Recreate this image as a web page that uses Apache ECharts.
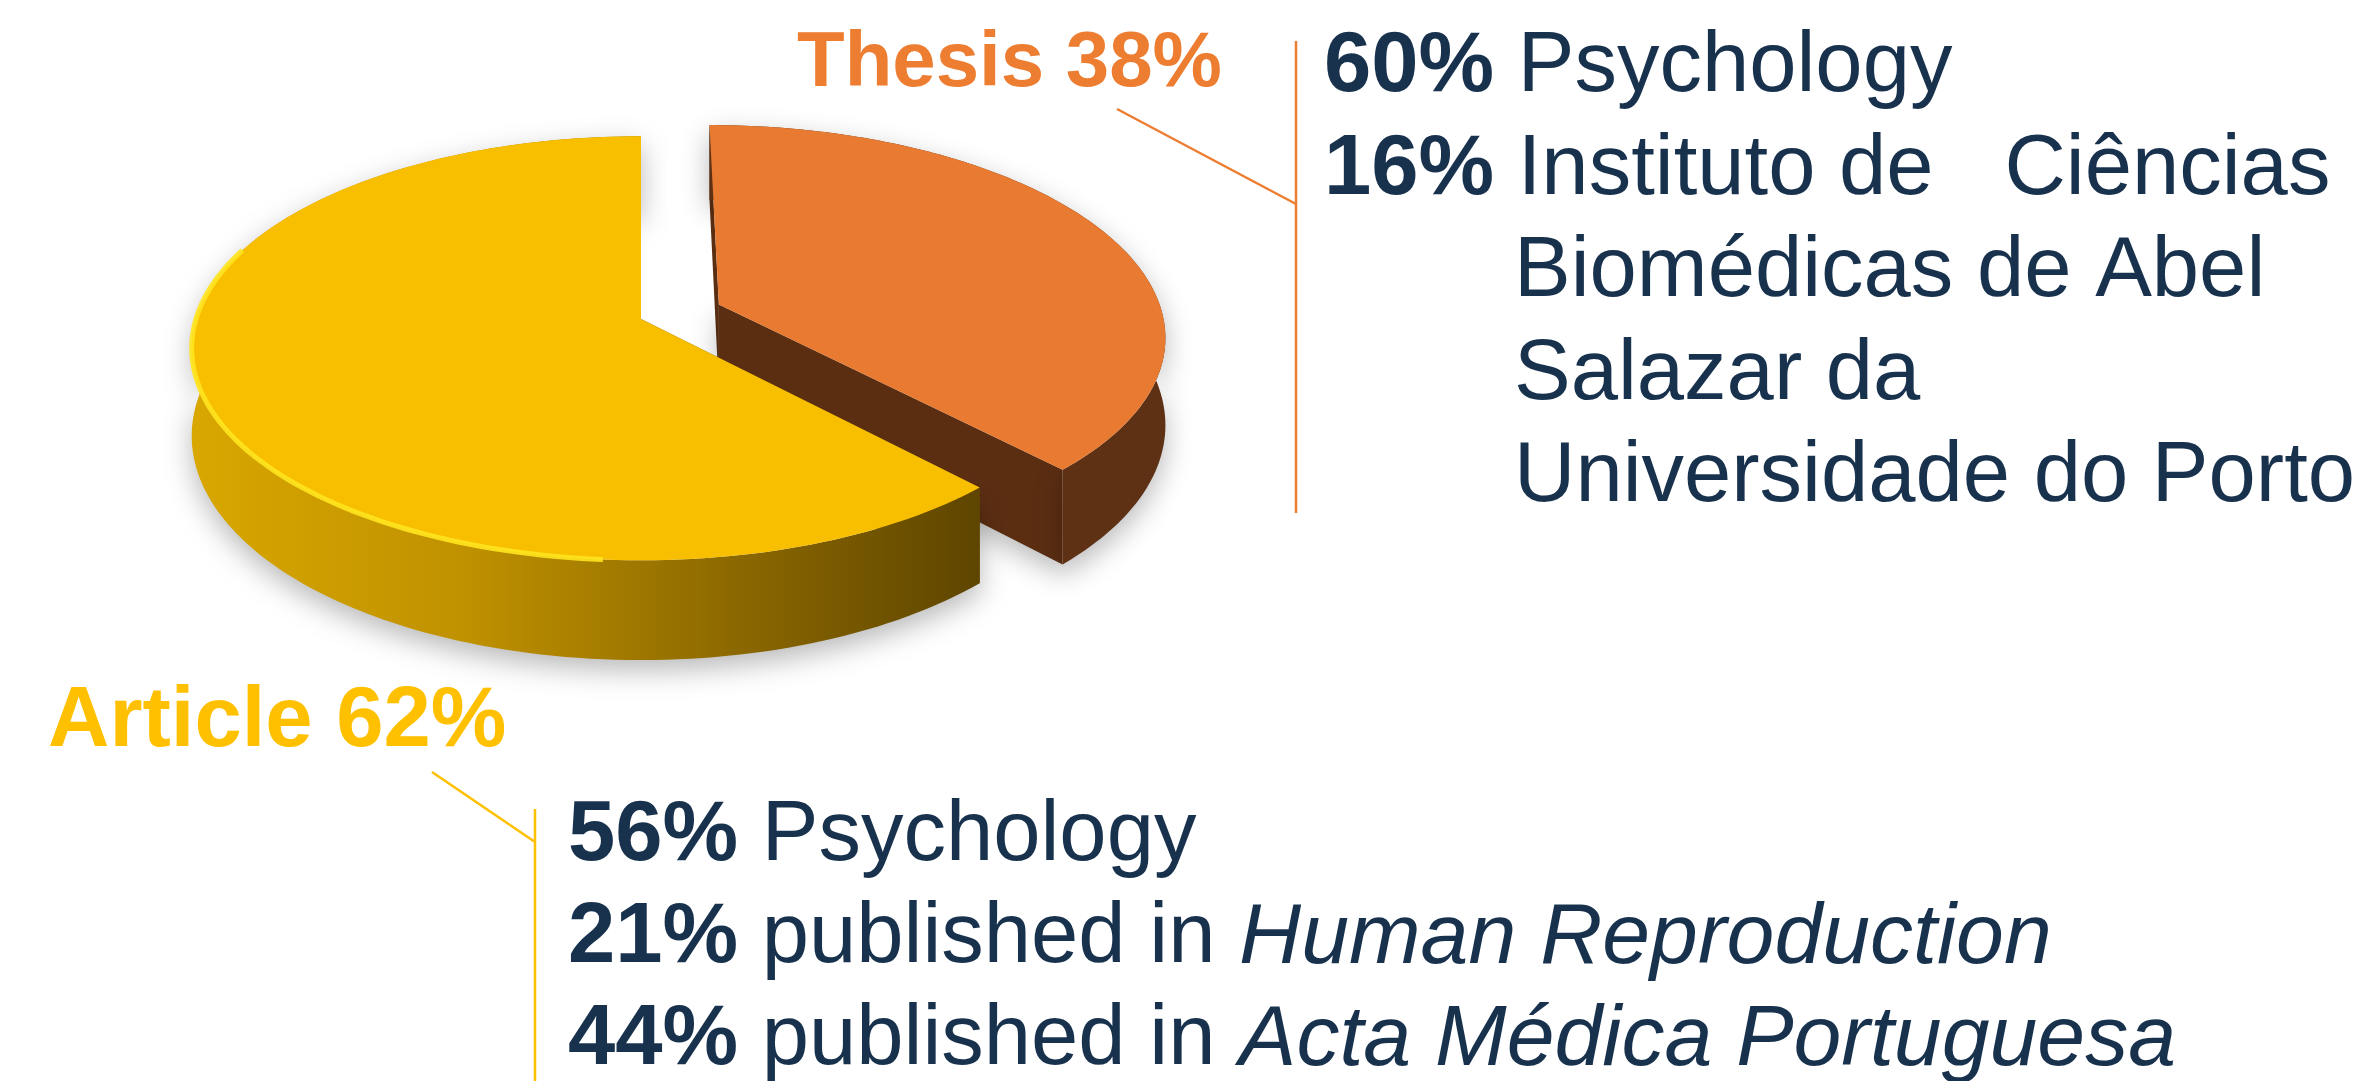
<!DOCTYPE html>
<html>
<head>
<meta charset="utf-8">
<script src="https://cdn.jsdelivr.net/npm/echarts@6/dist/echarts.min.js"></script>
<style>
  html, body { margin: 0; padding: 0; background: #fff; }
  #main { width: 2366px; height: 1081px; }
</style>
</head>
<body>
<div id="main"></div>
<script>
// data
const categories = ['Thesis', 'Article'];
const shares = [38, 62];
const thesisNotes = [
  ['60%', 'Psychology'],
  ['16%', 'Instituto de   Ciências'],
  ['', 'Biomédicas de Abel'],
  ['', 'Salazar da'],
  ['', 'Universidade do Porto']
];
const articleNotes = [
  ['56%', 'Psychology', ''],
  ['21%', 'published in ', 'Human Reproduction'],
  ['44%', 'published in ', 'Acta Médica Portuguesa']
];

// look of the fake 3d pie
const pie = {cx: 641, cy: 319, rx: 445, ry: 208, persp: 0.138, depth: 86};
const explode = [0.19, 0];
const topColor = ['#E87B31', '#F8BE00'];
const cutColor = ['#5B2E12', '#6A4C00'];
const FONT = '"Liberation Sans", Arial, sans-serif';
const NAVY = '#18324E';

function project(u, v, down) {
  const w = 1 + pie.persp * v;
  return [pie.cx + pie.rx * u / w, pie.cy - pie.ry * v / w + (down ? pie.depth / w : 0)];
}

function wallFill(i) {
  if (i === 0) return '#5E3014';
  return new echarts.graphic.LinearGradient(0, 0, 1, 0, [
    {offset: 0, color: '#D9A700'},
    {offset: 0.35, color: '#BF9100'},
    {offset: 0.7, color: '#8A6700'},
    {offset: 1, color: '#5E4500'}
  ]);
}

function renderSlice(params, api) {
  const i = params.dataIndex;
  const total = shares.reduce((a, b) => a + b, 0);
  let before = 0;
  for (let j = 0; j < i; j++) before += shares[j];
  const a0 = before / total * Math.PI * 2;
  const a1 = (before + api.value(1)) / total * Math.PI * 2;
  const mid = (a0 + a1) / 2;
  const ou = explode[i] * Math.sin(mid);
  const ov = explode[i] * Math.cos(mid);

  const steps = 160;
  const rimTop = [];
  const rimBot = [];
  const glow = [];
  for (let s = 0; s <= steps; s++) {
    const a = a0 + (a1 - a0) * s / steps;
    const p = project(ou + Math.sin(a), ov + Math.cos(a), false);
    rimTop.push(p);
    rimBot.push(project(ou + Math.sin(a), ov + Math.cos(a), true));
    if (Math.sin(a) < -0.05 && Math.cos(a) < 0.35) glow.push(p);
  }
  const apexTop = project(ou, ov, false);
  const apexBot = project(ou, ov, true);
  const last = rimTop.length - 1;
  const base = i * 10;

  const kids = [
    {
      type: 'polygon', z2: base,
      shape: {points: [apexTop, rimTop[0], rimBot[0], apexBot]},
      style: {fill: cutColor[i]}
    },
    {
      type: 'polygon', z2: base + 1,
      shape: {points: [apexTop, rimTop[last], rimBot[last], apexBot]},
      style: {fill: cutColor[i], shadowBlur: 28, shadowOffsetY: 10, shadowColor: 'rgba(0,0,0,0.28)'}
    },
    {
      type: 'polygon', z2: base + 2,
      shape: {points: rimTop.concat(rimBot.slice().reverse())},
      style: {fill: wallFill(i), shadowBlur: 28, shadowOffsetY: 10, shadowColor: 'rgba(0,0,0,0.28)'}
    },
    {
      type: 'polygon', z2: base + 3,
      shape: {points: [apexTop].concat(rimTop)},
      style: {fill: topColor[i]}
    }
  ];
  if (glow.length > 1) {
    kids.push({
      type: 'polyline', z2: base + 4,
      shape: {points: glow},
      style: {stroke: 'rgba(255,228,30,0.9)', lineWidth: 5, fill: null}
    });
  }
  return {type: 'group', children: kids};
}

function noteLine(n) {
  let t = '';
  if (n[0]) t += '{b|' + n[0] + '} ';
  t += '{n|' + n[1] + '}';
  if (n[2]) t += '{i|' + n[2] + '}';
  return t;
}

const rich = {
  b: {fontSize: 85, fontWeight: 'bold', fontFamily: FONT, fill: NAVY, lineHeight: 85},
  n: {fontSize: 85, fontFamily: FONT, fill: NAVY, lineHeight: 85},
  i: {fontSize: 86, fontStyle: 'italic', fontFamily: FONT, fill: NAVY, lineHeight: 85}
};

const graphics = [];

// slice labels
graphics.push({
  type: 'text', x: 797, y: 64,
  style: {text: categories[0] + ' ' + shares[0] + '%', fontSize: 78, fontWeight: 'bold', fontFamily: FONT, fill: '#ED7D31', verticalAlign: 'middle'}
});
graphics.push({
  type: 'text', x: 48, y: 723,
  style: {text: categories[1] + ' ' + shares[1] + '%', fontSize: 85, fontWeight: 'bold', fontFamily: FONT, fill: '#FFC000', verticalAlign: 'middle'}
});

// leader lines
graphics.push({type: 'line', shape: {x1: 1117, y1: 109, x2: 1296, y2: 204}, style: {stroke: '#ED7D31', lineWidth: 2.5}});
graphics.push({type: 'line', shape: {x1: 1296, y1: 41, x2: 1296, y2: 513}, style: {stroke: '#ED7D31', lineWidth: 2.5}});
graphics.push({type: 'line', shape: {x1: 432, y1: 772, x2: 535, y2: 842}, style: {stroke: '#FFC000', lineWidth: 2.5}});
graphics.push({type: 'line', shape: {x1: 535, y1: 809, x2: 535, y2: 1081}, style: {stroke: '#FFC000', lineWidth: 2.5}});

// notes on the right
thesisNotes.forEach(function (n, k) {
  graphics.push({
    type: 'text', x: n[0] ? 1324 : 1514, y: 94 + 102.5 * k - 26,
    style: {text: noteLine(n), rich: rich, fontSize: 85, fontFamily: FONT, fill: NAVY, verticalAlign: 'middle'}
  });
});

// notes at the bottom
articleNotes.forEach(function (n, k) {
  graphics.push({
    type: 'text', x: 568, y: 863 + 102 * k - 26,
    style: {text: noteLine(n), rich: rich, fontSize: 85, fontFamily: FONT, fill: NAVY, verticalAlign: 'middle'}
  });
});

const chart = echarts.init(document.getElementById('main'));
chart.setOption({
  backgroundColor: '#fff',
  animation: false,
  graphic: graphics,
  series: [{
    type: 'custom',
    coordinateSystem: 'none',
    silent: true,
    renderItem: renderSlice,
    data: shares.map(function (v, i) { return [i, v]; })
  }]
});
</script>
</body>
</html>
